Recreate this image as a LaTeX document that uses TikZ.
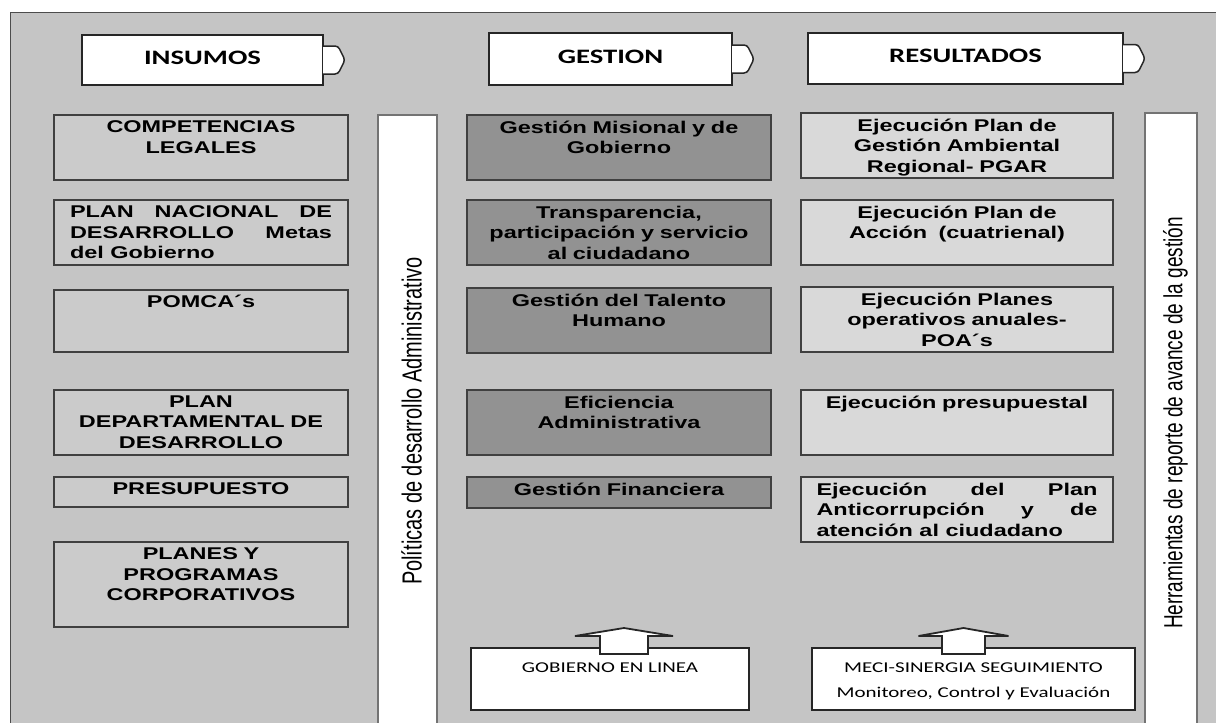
\documentclass[tikz,border=0pt]{standalone}
\usepackage{fontspec}
\usepackage{graphicx}
\newfontfamily\arialx[FakeStretch=1.38]{Liberation Sans}
\newfontfamily\arialn{Liberation Sans}
\newfontfamily\calx[FakeStretch=1.4]{Carlito}
\usetikzlibrary{positioning,calc}
\definecolor{bggray}{RGB}{197,197,197}
\definecolor{lfill}{RGB}{203,203,203}
\definecolor{mfill}{RGB}{146,146,146}
\definecolor{rfill}{RGB}{217,217,217}
\hyphenpenalty=10000
\exhyphenpenalty=10000
\tolerance=9999

\begin{document}
\begin{tikzpicture}[x=1pt, y=-1pt, line width=1.5pt,
  pxbox/.style 2 args={anchor=north west, inner sep=0pt, outer sep=0pt,
    minimum width=#1pt, minimum height=#2pt},
  hdr/.style={draw=black!85, fill=white, text depth=5pt,
    font=\calx\bfseries\fontsize{20.5pt}{24pt}\selectfont},
  tabline/.style={draw=black!85, fill=white, rounded corners=3pt},
  lbox/.style={draw=black!75, fill=lfill},
  mbox/.style={draw=black!75, fill=mfill},
  rbox/.style={draw=black!75, fill=rfill},
  vbar/.style={draw=black!55, fill=white},
  btxt/.style={anchor=north, inner sep=0pt, align=center,
    font=\arialx\bfseries\fontsize{17pt}{20.5pt}\selectfont},
  vtxt/.style={rotate=90, inner sep=0pt,
    font=\arialn\fontsize{20pt}{24pt}\selectfont},
  bot/.style={draw=black!85, fill=white},
  ftxt/.style={anchor=north, inner sep=0pt, align=center,
    font=\calx\fontsize{15pt}{25pt}\selectfont},
  uparr/.style={draw=black!85, fill=white, line width=1.8pt}
]
   \useasboundingbox (0,0) rectangle (1216,723);
   \clip (0,0) rectangle (1216,723);

   % Background
   \fill[bggray] (10,12) rectangle (1216,723);
   \draw[black!70, line width=1pt] (10,723) -- (10,12) -- (1216,12);

   % Vertical bars
   \node[vbar, pxbox={59}{612}] (polbar) at (378,115) {};
   \node[vbar, pxbox={52}{614}] (herrbar) at (1145,113) {};
   \node[vtxt] (poltxt) at ([xshift=4pt]polbar.center)
      {\scalebox{1}[1.38]{Políticas de desarrollo Administrativo}};
   \node[vtxt, font=\arialn\fontsize{19pt}{23pt}\selectfont] (herrtxt) at ([xshift=4.5pt,yshift=-3pt]herrbar.center)
      {\scalebox{1}[1.38]{Herramientas de reporte de avance de la gestión}};

   % Headers
   \node[hdr, pxbox={241}{50}] (ins) at (82,35) {INSUMOS};
   \node[hdr, pxbox={243}{52}] (ges) at (489,33) {GESTION};
   \node[hdr, pxbox={315}{51}] (res) at (808,33) {RESULTADOS};
   \foreach \hd in {ins,ges,res}
     \draw[tabline] ([yshift=14pt]\hd.east) -- ++(15pt,0pt) -- ++(7pt,-14pt)
        -- ++(-7pt,-14pt) -- ([yshift=-14pt]\hd.east);

   % Insumos
   \node[lbox, pxbox={294}{65}] (comp) at (54,115) {};
   \node[btxt, text width=280pt] (compt) at ([yshift=-5pt]comp.north) {COMPETENCIAS\\LEGALES};
   \node[lbox, pxbox={294}{65}] (pnd) at (54,200) {};
   \node[btxt, text width=262pt, align=justify] (pndt) at ([yshift=-5pt]pnd.north)
      {PLAN NACIONAL DE\linebreak DESARROLLO Metas\linebreak del Gobierno};
   \node[lbox, pxbox={294}{62}] (pomca) at (54,290) {};
   \node[btxt, text width=280pt] (pomcat) at ([yshift=-4pt]pomca.north) {POMCA´s};
   \node[lbox, pxbox={294}{65}] (pdd) at (54,390) {};
   \node[btxt, text width=280pt] (pddt) at ([yshift=-5pt]pdd.north) {PLAN\\DEPARTAMENTAL DE\\DESARROLLO};
   \node[lbox, pxbox={294}{30}] (presu) at (54,477) {};
   \node[btxt, text width=280pt] (presut) at ([yshift=-5pt]presu.north) {PRESUPUESTO};
   \node[lbox, pxbox={294}{85}] (ppc) at (54,542) {};
   \node[btxt, text width=280pt] (ppct) at ([yshift=-5pt]ppc.north) {PLANES Y\\PROGRAMAS\\CORPORATIVOS};

   % Gestion
   \node[mbox, pxbox={304}{65}] (gmg) at (467,115) {};
   \node[btxt, text width=290pt] (gmgt) at ([yshift=-5pt]gmg.north) {Gestión Misional y de\\Gobierno};
   \node[mbox, pxbox={304}{65}] (tpc) at (467,200) {};
   \node[btxt, text width=290pt] (tpct) at ([yshift=-5pt]tpc.north) {Transparencia,\\participación y servicio\\al ciudadano};
   \node[mbox, pxbox={304}{65}] (gth) at (467,288) {};
   \node[btxt, text width=290pt] (gtht) at ([yshift=-5pt]gth.north) {Gestión del Talento\\Humano};
   \node[mbox, pxbox={304}{65}] (efa) at (467,390) {};
   \node[btxt, text width=290pt] (efat) at ([yshift=-5pt]efa.north) {Eficiencia\\Administrativa};
   \node[mbox, pxbox={304}{31}] (gfin) at (467,477) {};
   \node[btxt, text width=290pt] (gfint) at ([yshift=-5pt]gfin.north) {Gestión Financiera};

   % Resultados
   \node[rbox, pxbox={312}{65}] (pgar) at (801,113) {};
   \node[btxt, text width=296pt] (pgart) at ([yshift=-5pt]pgar.north) {Ejecución Plan de\\Gestión Ambiental\\Regional- PGAR};
   \node[rbox, pxbox={312}{65}] (pac) at (801,200) {};
   \node[btxt, text width=296pt] (pact) at ([yshift=-5pt]pac.north) {Ejecución Plan de\\Acción\ \ (cuatrienal)};
   \node[rbox, pxbox={312}{65}] (poa) at (801,287) {};
   \node[btxt, text width=296pt] (poat) at ([yshift=-5pt]poa.north) {Ejecución Planes\\operativos anuales-\\POA´s};
   \node[rbox, pxbox={312}{65}] (epre) at (801,390) {};
   \node[btxt, text width=296pt] (epret) at ([yshift=-5pt]epre.north) {Ejecución presupuestal};
   \node[rbox, pxbox={312}{65}] (anti) at (801,477) {};
   \node[btxt, text width=281pt, align=justify] (antit) at ([yshift=-5pt]anti.north)
      {Ejecución del Plan\linebreak Anticorrupción y de\linebreak atención al ciudadano};

   % Bottom boxes
   \node[bot, pxbox={278}{62}] (gel) at (471,648) {};
   \node[ftxt] (gelt) at ([yshift=-14pt]gel.north) {GOBIERNO EN LINEA};
   \node[bot, pxbox={323}{62}] (meci) at (812,648) {};
   \node[ftxt] (mecit) at ([yshift=-14pt]meci.north) {MECI-SINERGIA SEGUIMIENTO\\Monitoreo, Control y Evaluación};

   % Block arrows
   \coordinate (gelarr) at ([xshift=14pt,yshift=-6pt]gel.north);
   \draw[uparr] ([xshift=-24pt]gelarr) -- ++(0pt,18pt) -- ++(-25pt,0pt) -- ([yshift=26pt]gelarr)
      -- ([xshift=49pt,yshift=18pt]gelarr) -- ++(-25pt,0pt) -- ([xshift=24pt]gelarr) -- cycle;
   \coordinate (meciarr) at ([xshift=-10pt,yshift=-6pt]meci.north);
   \draw[uparr] ([xshift=-21.5pt]meciarr) -- ++(0pt,18pt) -- ++(-23.5pt,0pt) -- ([yshift=26pt]meciarr)
      -- ([xshift=45pt,yshift=18pt]meciarr) -- ++(-23.5pt,0pt) -- ([xshift=21.5pt]meciarr) -- cycle;
\end{tikzpicture}
\end{document}
